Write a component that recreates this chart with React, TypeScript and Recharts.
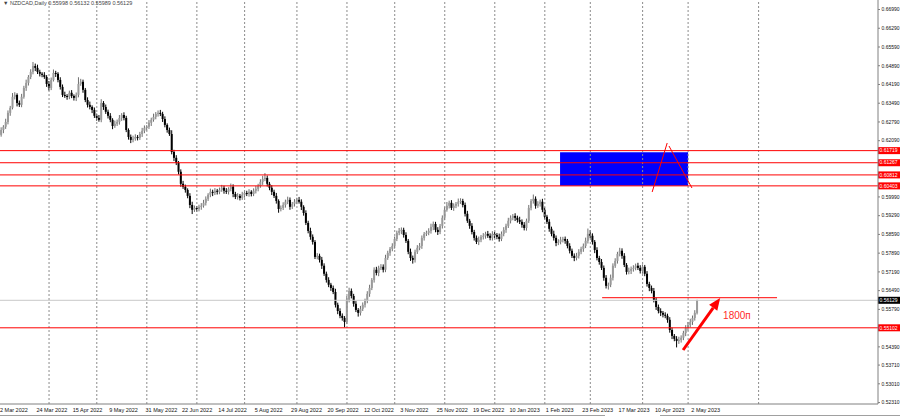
import { ComposedChart, Bar, XAxis, YAxis, ReferenceLine, ReferenceArea, ReferenceDot } from 'recharts'

const FONT = '"Liberation Sans", Arial, sans-serif'

// x-axis labels, one every 16 trading days starting at bar 0
const tickLabels = [
  '2 Mar 2022', '24 Mar 2022', '15 Apr 2022', '9 May 2022', '31 May 2022', '22 Jun 2022',
  '14 Jul 2022', '5 Aug 2022', '29 Aug 2022', '20 Sep 2022', '12 Oct 2022', '3 Nov 2022',
  '25 Nov 2022', '19 Dec 2022', '10 Jan 2023', '1 Feb 2023', '23 Feb 2023', '17 Mar 2023',
  '10 Apr 2023', '2 May 2023',
]
const labelStep = 16
// bar index of the first trading day of each month (vertical dashed grid)
const monthStarts = [22, 43, 65, 87, 108, 131, 153, 174, 196, 218, 240, 260, 283, 303, 334]

const yTicks = [
  0.6699, 0.6629, 0.6559, 0.6489, 0.6419, 0.6349, 0.6279, 0.6209, 0.5999, 0.5929,
  0.5859, 0.5789, 0.5719, 0.5649, 0.5579, 0.5439, 0.5371, 0.5301, 0.5231,
]

const levels = [0.61719, 0.61267, 0.60812, 0.60403, 0.55102]
const bid = 0.56129
const resistance = 0.56226

// daily closes NZDCAD, 2 Mar 2022 .. 5 May 2023
const closes = [
  0.6231, 0.6249, 0.6261, 0.6279, 0.6313, 0.6332, 0.6373, 0.6380, 0.6350, 0.6343, 0.6373, 0.6406, 0.6425, 0.6447, 0.6466, 0.6488,
  0.6481, 0.6466, 0.6459, 0.6455, 0.6447, 0.6421, 0.6406, 0.6436, 0.6462, 0.6459, 0.6436, 0.6410, 0.6380, 0.6376, 0.6373, 0.6388,
  0.6376, 0.6369, 0.6380, 0.6421, 0.6429, 0.6399, 0.6361, 0.6343, 0.6335, 0.6324, 0.6302, 0.6294, 0.6287, 0.6350, 0.6335, 0.6317,
  0.6302, 0.6287, 0.6264, 0.6272, 0.6279, 0.6294, 0.6305, 0.6294, 0.6249, 0.6223, 0.6212, 0.6216, 0.6223, 0.6220, 0.6234, 0.6246,
  0.6257, 0.6261, 0.6276, 0.6287, 0.6298, 0.6309, 0.6313, 0.6309, 0.6290, 0.6268, 0.6249, 0.6234, 0.6167, 0.6145, 0.6126, 0.6093,
  0.6048, 0.6037, 0.6025, 0.6003, 0.5969, 0.5951, 0.5958, 0.5954, 0.5962, 0.5966, 0.5977, 0.5992, 0.6007, 0.6018, 0.6014, 0.6022,
  0.6018, 0.6025, 0.6033, 0.6022, 0.6018, 0.6029, 0.6037, 0.6010, 0.5999, 0.6003, 0.5995, 0.6007, 0.6014, 0.6010, 0.6018, 0.6010,
  0.6022, 0.6029, 0.6040, 0.6055, 0.6066, 0.6070, 0.6048, 0.6033, 0.6018, 0.6003, 0.5984, 0.5954, 0.5958, 0.5969, 0.5981, 0.5988,
  0.5962, 0.5973, 0.5981, 0.5988, 0.5981, 0.5962, 0.5939, 0.5902, 0.5872, 0.5850, 0.5831, 0.5775, 0.5779, 0.5764, 0.5742, 0.5712,
  0.5689, 0.5671, 0.5659, 0.5644, 0.5596, 0.5573, 0.5555, 0.5547, 0.5532, 0.5615, 0.5648, 0.5629, 0.5600, 0.5577, 0.5566, 0.5581,
  0.5596, 0.5611, 0.5637, 0.5659, 0.5689, 0.5727, 0.5715, 0.5734, 0.5738, 0.5727, 0.5771, 0.5790, 0.5805, 0.5816, 0.5842, 0.5865,
  0.5872, 0.5876, 0.5857, 0.5835, 0.5794, 0.5771, 0.5764, 0.5794, 0.5809, 0.5816, 0.5846, 0.5861, 0.5865, 0.5872, 0.5887, 0.5898,
  0.5876, 0.5868, 0.5891, 0.5921, 0.5951, 0.5966, 0.5977, 0.5958, 0.5966, 0.5973, 0.5981, 0.5984, 0.5969, 0.5936, 0.5910, 0.5891,
  0.5868, 0.5846, 0.5831, 0.5839, 0.5850, 0.5854, 0.5861, 0.5854, 0.5846, 0.5861, 0.5857, 0.5850, 0.5842, 0.5861, 0.5876, 0.5891,
  0.5910, 0.5921, 0.5928, 0.5921, 0.5913, 0.5906, 0.5895, 0.5883, 0.5910, 0.5958, 0.5984, 0.5992, 0.5966, 0.5973, 0.5981, 0.5951,
  0.5925, 0.5906, 0.5880, 0.5861, 0.5846, 0.5827, 0.5831, 0.5839, 0.5842, 0.5835, 0.5816, 0.5798, 0.5779, 0.5771, 0.5779, 0.5794,
  0.5805, 0.5816, 0.5835, 0.5861, 0.5854, 0.5831, 0.5801, 0.5771, 0.5756, 0.5734, 0.5697, 0.5667, 0.5671, 0.5697, 0.5742, 0.5760,
  0.5786, 0.5798, 0.5779, 0.5745, 0.5719, 0.5723, 0.5730, 0.5734, 0.5742, 0.5734, 0.5723, 0.5738, 0.5712, 0.5674, 0.5659, 0.5648,
  0.5615, 0.5588, 0.5573, 0.5566, 0.5559, 0.5555, 0.5540, 0.5502, 0.5480, 0.5469, 0.5461, 0.5465, 0.5473, 0.5491, 0.5510, 0.5521,
  0.5532, 0.5547, 0.5566, 0.56129,
]

// wick lengths in pips above / below the body
const upperWick = [
  8, 10, 6, 12, 9, 7, 14, 10, 6, 9, 11, 8, 12, 7, 10, 15,
  9, 12, 8, 6, 10, 7, 11, 9, 13, 8, 6, 10, 9, 12, 7, 8,
  10, 6, 9, 25, 11, 8, 7, 10, 12, 6, 9, 8, 11, 14, 7, 9,
  8, 10, 6, 12, 9, 11, 7, 10, 8, 6, 9, 12, 10, 7, 8, 11,
  9, 6, 10, 8, 12, 7, 9, 11, 8, 10, 6, 9, 14, 8, 10, 7,
  9, 11, 8, 6, 10, 12, 9, 7, 8, 10, 11, 9, 6, 12, 8, 10,
  7, 9, 11, 8, 10, 6, 12, 9, 8, 10, 7, 11, 9, 8, 10, 6,
  9, 11, 8, 10, 12, 18, 9, 7, 10, 8, 11, 6, 9, 10, 8, 12,
  9, 7, 10, 8, 11, 9, 6, 10, 8, 12, 9, 7, 10, 8, 11, 9,
  8, 10, 7, 9, 12, 8, 10, 9, 7, 14, 12, 9, 8, 10, 7, 11,
  9, 8, 10, 12, 7, 9, 11, 8, 10, 9, 12, 8, 7, 10, 9, 8,
  11, 9, 8, 10, 7, 12, 9, 8, 10, 11, 9, 7, 8, 10, 12, 9,
  8, 10, 7, 9, 11, 14, 8, 10, 9, 7, 12, 10, 8, 9, 11, 7,
  10, 8, 9, 12, 7, 10, 8, 11, 9, 10, 8, 7, 12, 9, 10, 8,
  11, 9, 7, 10, 8, 12, 9, 10, 8, 11, 7, 16, 9, 10, 8, 11,
  9, 7, 10, 8, 12, 9, 10, 11, 8, 9, 7, 10, 8, 9, 11, 10,
  8, 9, 12, 20, 14, 9, 7, 10, 8, 11, 9, 10, 8, 12, 9, 10,
  8, 11, 9, 10, 7, 12, 9, 10, 8, 11, 10, 9, 7, 10, 8, 9,
  11, 8, 9, 10, 7, 9, 8, 10, 9, 7, 10, 12, 9, 8, 10, 11,
  12, 9, 10, 2,
]
const lowerWick = [
  10, 7, 12, 8, 9, 11, 6, 10, 13, 8, 9, 7, 11, 10, 8, 9,
  12, 8, 10, 9, 7, 11, 10, 8, 6, 12, 9, 10, 8, 7, 11, 9,
  8, 10, 12, 9, 7, 11, 8, 10, 9, 12, 8, 10, 7, 9, 11, 8,
  10, 9, 12, 7, 8, 10, 11, 9, 8, 10, 12, 9, 7, 10, 8, 11,
  9, 10, 8, 12, 7, 9, 10, 8, 11, 9, 10, 7, 9, 12, 8, 10,
  11, 8, 10, 9, 12, 16, 8, 10, 9, 11, 7, 10, 8, 9, 12, 8,
  10, 9, 7, 11, 8, 10, 9, 12, 8, 10, 9, 7, 11, 8, 10, 9,
  8, 10, 9, 7, 11, 8, 10, 9, 12, 8, 10, 14, 9, 8, 10, 9,
  11, 8, 10, 9, 7, 12, 10, 8, 9, 11, 10, 8, 9, 10, 12, 8,
  10, 9, 11, 8, 10, 12, 9, 10, 20, 8, 10, 9, 11, 8, 14, 10,
  8, 10, 9, 11, 8, 10, 9, 12, 8, 10, 9, 7, 11, 9, 10, 8,
  9, 12, 10, 8, 9, 11, 14, 10, 8, 9, 11, 10, 8, 9, 10, 12,
  9, 11, 8, 10, 9, 7, 10, 8, 11, 9, 10, 8, 9, 10, 8, 11,
  9, 10, 8, 12, 9, 10, 11, 8, 9, 10, 12, 9, 10, 8, 9, 11,
  8, 10, 9, 12, 10, 8, 11, 9, 10, 8, 9, 10, 11, 8, 10, 9,
  10, 8, 11, 9, 10, 12, 8, 9, 10, 11, 9, 10, 8, 12, 9, 10,
  9, 11, 8, 10, 9, 10, 12, 9, 10, 8, 11, 10, 14, 9, 10, 8,
  10, 9, 11, 8, 10, 9, 12, 10, 9, 8, 10, 11, 9, 10, 12, 9,
  10, 11, 9, 12, 10, 9, 11, 10, 12, 9, 24, 11, 10, 9, 12, 10,
  9, 11, 10, 6,
]
const firstOpen = 0.6225

const data = closes.map((c, i) => {
  const o = i === 0 ? firstOpen : closes[i - 1]
  const h = Math.max(o, c) + upperWick[i] / 10000
  const l = Math.min(o, c) - lowerWick[i] / 10000
  return { i, o, h, l, c }
})

const Candle = (props: any) => {
  const { x, y, width, height, payload } = props
  if (height == null || !payload) return null
  const { o, h, l, c } = payload
  const k = height / (h - l)
  const cx = x + width / 2
  const top = y + (h - Math.max(o, c)) * k
  const bot = y + (h - Math.min(o, c)) * k
  const bull = c >= o
  return (
    <g>
      <line x1={cx} x2={cx} y1={y} y2={y + height} stroke={bull ? '#707070' : '#000'} strokeWidth={1} />
      <rect x={x} y={top} width={width} height={Math.max(bot - top, 1)} fill={bull ? '#9a9a9a' : '#000'} />
    </g>
  )
}

const PriceTag = (props: any) => {
  const { viewBox, text, bg } = props
  const right = viewBox.x + viewBox.width
  return (
    <g>
      <rect x={right} y={viewBox.y - 3.5} width={22} height={7} fill={bg} />
      <text x={right + 1.5} y={viewBox.y} dy="0.35em" fontSize={5} fontFamily={FONT} fill="#fff">{text}</text>
    </g>
  )
}

const XTick = (props: any) => {
  const { x, y, payload } = props
  return (
    <text x={x + 1} y={y + 8} fontSize={5.5} fontFamily={FONT} fill="#111" textAnchor="start">
      {tickLabels[payload.value / labelStep]}
    </text>
  )
}

const Arrow = (p: any) => {
  const { x1, y1, x2, y2 } = p
  const dx = x2 - x1
  const dy = y2 - y1
  const len = Math.hypot(dx, dy)
  const ux = dx / len
  const uy = dy / len
  const hl = 12
  const hw = 5
  const bx = x2 - ux * hl
  const by = y2 - uy * hl
  return (
    <g>
      <line x1={x1} y1={y1} x2={bx} y2={by} stroke="#ff0000" strokeWidth={3} />
      <polygon points={`${x2},${y2} ${bx - uy * hw},${by + ux * hw} ${bx + uy * hw},${by - ux * hw}`} fill="#ff0000" />
    </g>
  )
}

export default function App() {
  return (
    <div style={{ position: 'absolute', left: 0, top: 0, width: 900, height: 418, background: '#fff' }}>
      <ComposedChart width={900} height={418} data={data} margin={{ top: 0, right: 0, bottom: 0, left: -1 }}>
        <XAxis
          dataKey="i"
          type="number"
          domain={[0, 386.5]}
          allowDataOverflow
          ticks={tickLabels.map((_, k) => k * labelStep)}
          interval={0}
          height={14}
          tickLine={false}
          tickSize={0}
          tickMargin={0}
          axisLine={{ stroke: '#808080' }}
          tick={<XTick />}
        />
        <YAxis
          orientation="right"
          width={22}
          type="number"
          domain={[0.52256, 0.67345]}
          allowDataOverflow
          ticks={yTicks}
          interval={0}
          tickSize={2}
          tickMargin={1.5}
          tickLine={{ stroke: '#808080' }}
          axisLine={{ stroke: '#808080' }}
          tickFormatter={(v: number) => v.toFixed(5)}
          tick={{ fontSize: 5, fill: '#111', fontFamily: FONT }}
        />
        {monthStarts.map((m) => (
          <ReferenceLine key={'m' + m} x={m} stroke="#8c8c8c" strokeDasharray="2 2" />
        ))}
        <ReferenceArea x1={246.7} x2={303} y1={0.60403} y2={0.6166} fill="#0000ff" fillOpacity={1} stroke="none" />
        <Bar dataKey={(d: any) => [d.l, d.h]} shape={Candle} barSize={2} isAnimationActive={false} />
        <ReferenceLine y={bid} stroke="#c8c8c8" label={<PriceTag text={bid.toFixed(5)} bg="#000" />} />
        {levels.map((lv) => (
          <ReferenceLine key={'l' + lv} y={lv} stroke="#ff0000" label={<PriceTag text={lv.toFixed(5)} bg="#ff0000" />} />
        ))}
        <ReferenceLine segment={[{ x: 265.2, y: resistance }, { x: 342.1, y: resistance }]} stroke="#ff0000" />
        <ReferenceLine segment={[{ x: 287.2, y: 0.60174 }, { x: 293.8, y: 0.62004 }]} stroke="#ff0000" />
        <ReferenceLine segment={[{ x: 294.6, y: 0.61892 }, { x: 304.7, y: 0.60323 }]} stroke="#ff0000" />
        <ReferenceLine segment={[{ x: 300.8, y: 0.54273 }, { x: 317.1, y: 0.56215 }]} shape={Arrow} />
        <ReferenceDot
          x={318.4}
          y={0.55543}
          r={0}
          shape={(p: any) => (
            <text x={p.cx} y={p.cy} dy="0.35em" fontSize={10} fontFamily={FONT} fill="#ff2a2a">1800п</text>
          )}
        />
      </ComposedChart>
      <svg width={900} height={418} style={{ position: 'absolute', left: 0, top: 0, pointerEvents: 'none' }}>
        <text x={3} y={5} fontSize={5.5} fontFamily={FONT} fill="#444">▼ NZDCAD,Daily  0.55998 0.56132 0.55989 0.56129</text>
        <line x1={0} x2={605} y1={415.5} y2={415.5} stroke="#a0a0a0" />
        <line x1={660} x2={900} y1={415.5} y2={415.5} stroke="#a0a0a0" />
      </svg>
    </div>
  )
}
